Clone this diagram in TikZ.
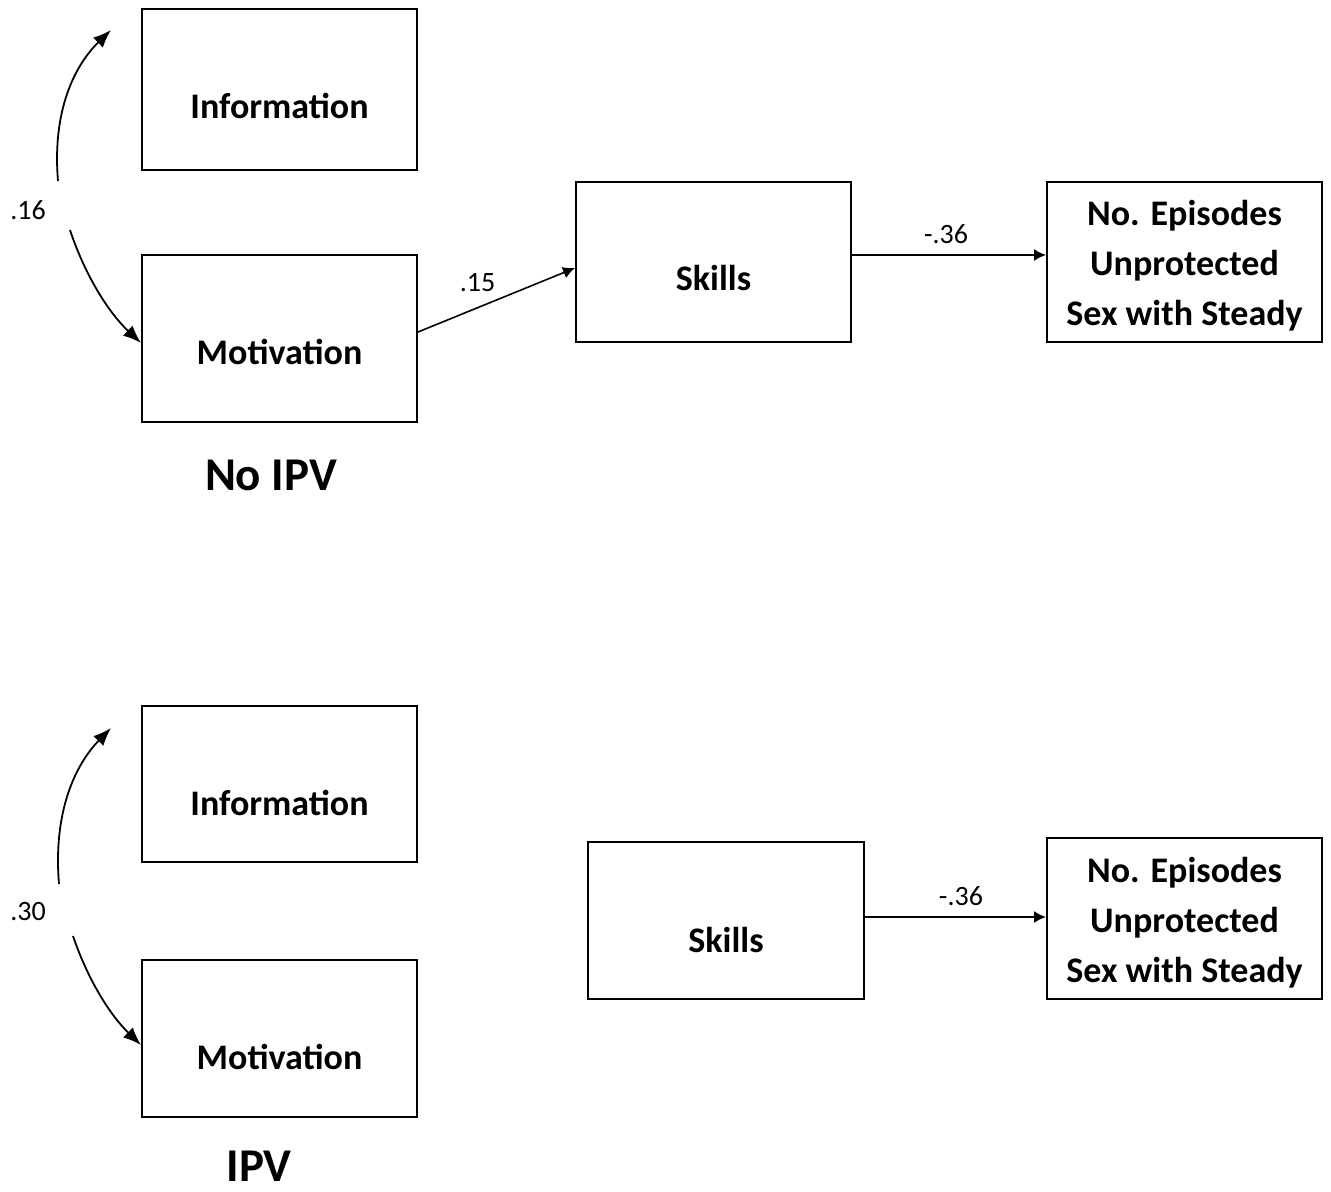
\documentclass[tikz,border=0pt]{standalone}
\usepackage{fontspec}
\setmainfont{Carlito}
\usetikzlibrary{arrows.meta}
\begin{document}
\begin{tikzpicture}[x=0.5pt,y=-0.5pt,
  box/.style={draw, line width=1pt, inner sep=0pt},
  lbl/.style={font=\fontsize{18}{25}\selectfont\bfseries, align=center, inner sep=0pt},
  coef/.style={font=\fontsize{14}{15}\selectfont, inner sep=0pt},
  title/.style={font=\fontsize{23.5}{28}\selectfont\bfseries, inner sep=0pt},
  path/.style={line width=0.8pt, -{Latex[length=6pt,width=6pt]}},
  cov/.style={line width=0.9pt, -{Latex[length=9pt,width=7pt]}}]
\useasboundingbox (0,0) rectangle (1331,1192);

% ---- No IPV group ----
\node[box, minimum width=137.5pt, minimum height=80.5pt] (info1) at (279.5,89.5) {};
\node[box, minimum width=137.5pt, minimum height=83.5pt] (mot1) at (279.5,338.5) {};
\node[box, minimum width=137.5pt, minimum height=80pt] (sk1) at (713.5,262) {};
\node[box, minimum width=137.5pt, minimum height=80pt] (out1) at (1184.5,262) {};
\node[lbl, yshift=-8pt] (info1t) at (info1.center) {Information};
\node[lbl, yshift=-6.5pt] (mot1t) at (mot1.center) {Motivation};
\node[lbl, yshift=-8pt] (sk1t) at (sk1.center) {Skills};
\node[lbl, yshift=-2pt] (out1t) at (out1.center) {No. Episodes\\Unprotected\\Sex with Steady};
\node[title] (t1) at (271,475) {No IPV};
\node[coef] (c1) at (28,210) {.16};
\coordinate (c1top) at (58,181);
\coordinate (c1tip) at (111,30);
\coordinate (c1bot) at (70,230);
\draw[cov] (c1top) .. controls (52,110) and (75,65) .. (c1tip);
\draw[cov] (c1bot) .. controls (85,275) and (108,312) .. (mot1.west |- 0,343);
\draw[path] (mot1.east |- 0,332) -- (sk1.west |- 0,268) node[coef, pos=0.38, above=7.5pt] (l15) {.15};
\draw[path] (sk1.east |- 0,255) -- (out1.west |- 0,255) node[coef, pos=0.485, above=5pt] (l36a) {-.36};

% ---- IPV group ----
\node[box, minimum width=137.5pt, minimum height=78pt] (info2) at (279.5,784) {};
\node[box, minimum width=137.5pt, minimum height=78.5pt] (mot2) at (279.5,1038.5) {};
\node[box, minimum width=138pt, minimum height=78.5pt] (sk2) at (726,920.5) {};
\node[box, minimum width=137.5pt, minimum height=80.5pt] (out2) at (1184.5,918.5) {};
\node[lbl, yshift=-9.5pt] (info2t) at (info2.center) {Information};
\node[lbl, yshift=-9pt] (mot2t) at (mot2.center) {Motivation};
\node[lbl, yshift=-9.5pt] (sk2t) at (sk2.center) {Skills};
\node[lbl, yshift=-2pt] (out2t) at (out2.center) {No. Episodes\\Unprotected\\Sex with Steady};
\node[title] (t2) at (259,1166) {IPV};
\node[coef] (c2) at (28,912) {.30};
\coordinate (c2top) at (59,884);
\coordinate (c2tip) at (111,728);
\coordinate (c2bot) at (73,936);
\draw[cov] (c2top) .. controls (53,812) and (75,765) .. (c2tip);
\draw[cov] (c2bot) .. controls (88,980) and (110,1015) .. (mot2.west |- 0,1045);
\draw[path] (sk2.east |- 0,917) -- (out2.west |- 0,917) node[coef, pos=0.53, above=5pt] (l36b) {-.36};
\end{tikzpicture}
\end{document}
